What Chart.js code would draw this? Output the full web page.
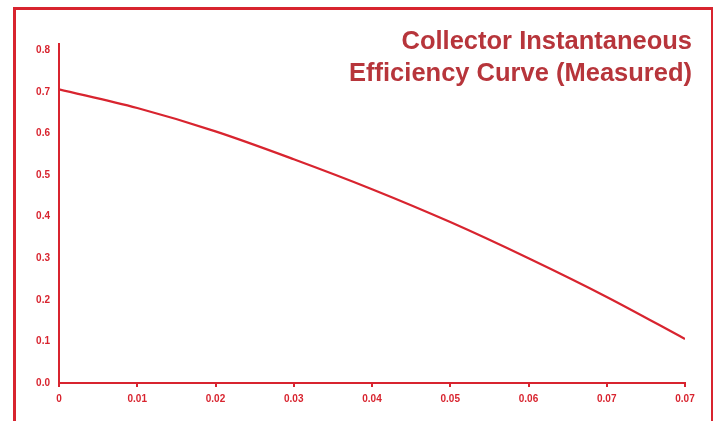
<!DOCTYPE html>
<html>
<head>
<meta charset="utf-8">
<script src="https://cdn.jsdelivr.net/npm/chart.js@4"></script>
<style>
	html, body { margin: 0; padding: 0; background: #fff; }
	#wrap { position: relative; width: 716px; height: 421px; overflow: hidden; }
	#frame {
		position: absolute; left: 13px; top: 7px; width: 695px; height: 430px;
		border-left: 3px solid #d8242f; border-top: 3px solid #d8242f; border-right: 2px solid #d8242f;
	}
	#title {
		position: absolute; right: 24px; top: 24px;
		font-family: "Liberation Sans", Arial, sans-serif; font-size: 25.5px; font-weight: bold; line-height: 32px;
		color: #b7353b; text-align: right;
	}
	canvas { position: absolute; left: 0; top: 0; }
</style>
</head>
<body>
<div id="wrap">
	<div id="frame"></div>
	<canvas id="chart" width="716" height="421"></canvas>
	<div id="title">Collector Instantaneous<br>Efficiency Curve (Measured)</div>
</div>
<script>
// readings
var xValues = [0, 0.01, 0.02, 0.03, 0.04, 0.05, 0.06, 0.07, 0.08];
var efficiency = [0.706, 0.661, 0.605, 0.538, 0.466, 0.387, 0.300, 0.207, 0.106];
var xTickLabels = ['0', '0.01', '0.02', '0.03', '0.04', '0.05', '0.06', '0.07', '0.07'];
var yTicks = [0, 0.1, 0.2, 0.3, 0.4, 0.5, 0.6, 0.7, 0.8];
var yTickLabels = ['0.0', '0.1', '0.2', '0.3', '0.4', '0.5', '0.6', '0.7', '0.8'];

var red = '#d8242f';
var tickFont = { family: '"Liberation Sans", Arial, sans-serif', size: 10, weight: 'bold' };

var points = xValues.map(function (x, i) { return { x: x, y: efficiency[i] }; });

new Chart(document.getElementById('chart').getContext('2d'), {
	type: 'line',
	data: {
		datasets: [{
			data: points,
			borderColor: red,
			borderWidth: 2.2,
			pointRadius: 0,
			fill: false,
			cubicInterpolationMode: 'monotone'
		}]
	},
	options: {
		responsive: false,
		animation: false,
		layout: { padding: { left: 0, top: 44, right: 31, bottom: 0 } },
		plugins: { legend: { display: false }, tooltip: { enabled: false } },
		scales: {
			x: {
				type: 'linear',
				min: 0,
				max: 0.08,
				afterBuildTicks: function (axis) {
					axis.ticks = xValues.map(function (v) { return { value: v }; });
				},
				afterFit: function (scale) { scale.height = 38; },
				border: { color: red, width: 2 },
				grid: { drawOnChartArea: false, drawTicks: true, tickLength: 4, color: red, lineWidth: 2 },
				ticks: {
					color: red,
					font: tickFont,
					padding: 6,
					maxRotation: 0,
					autoSkip: false,
					callback: function (v, i) { return xTickLabels[i]; }
				}
			},
			y: {
				min: 0,
				max: 0.815,
				afterBuildTicks: function (axis) {
					axis.ticks = yTicks.map(function (v) { return { value: v }; });
				},
				afterFit: function (scale) { scale.width = 59; },
				border: { color: red, width: 2 },
				grid: { display: false, drawTicks: false },
				ticks: {
					color: red,
					font: tickFont,
					padding: 9,
					callback: function (v, i) { return yTickLabels[i]; }
				}
			}
		}
	}
});
</script>
</body>
</html>
